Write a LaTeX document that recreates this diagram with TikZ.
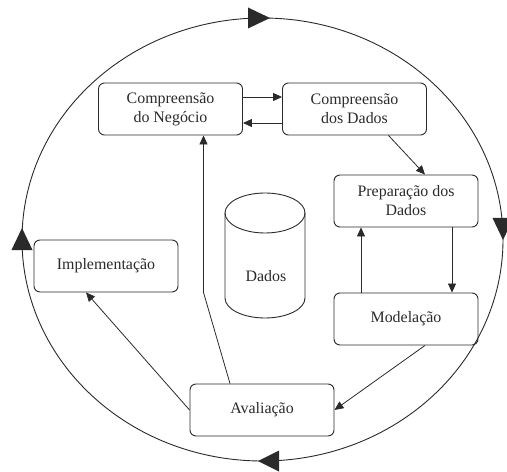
\documentclass[tikz,border=0pt]{standalone}
\usepackage{fontspec}
\setmainfont{Liberation Serif}
\usetikzlibrary{arrows.meta,calc}
\definecolor{ink}{HTML}{2A2A2A}
\begin{document}
\begin{tikzpicture}[x=1bp,y=-1bp,
  phase/.style={draw=ink, line width=0.9bp, rounded corners=6bp,
    minimum width=144bp, minimum height=52bp, align=center, text=ink,
    font=\fontsize{16}{19}\selectfont, inner sep=0pt},
  flow/.style={draw=ink, line width=0.8bp, -{Triangle[length=9bp,width=8bp]}},
  outline/.style={draw=ink, line width=0.9bp},
  cyclehead/.style={fill=ink}]
\useasboundingbox (0,0) rectangle (507,472);

% outer cycle
\draw[outline] (262.5,239.5) ellipse [x radius=240.5, y radius=221.5];
\fill[cyclehead] (270,18) -- (248,7.5) -- (248,28.5) -- cycle;
\fill[cyclehead] (503,240) -- (492.5,218) -- (513.5,218) -- cycle;
\fill[cyclehead] (258,461) -- (279,450.5) -- (279,471.5) -- cycle;
\fill[cyclehead] (22,228) -- (11.5,250) -- (32.5,250) -- cycle;

% phases
\node[phase] (cn) at (170.5,109) {Compreensão\\do Negócio};
\node[phase] (cd) at (354.5,109) {Compreensão\\dos Dados};
\node[phase] (pd) at (406,201) {Preparação dos\\Dados};
\node[phase] (md) at (406,319) {Modelação};
\node[phase] (av) at (262,410) {Avaliação};
\node[phase] (im) at (106,266) {Implementação};

% data store
\draw[outline] (265,213) ellipse [x radius=40, y radius=20];
\draw[outline] (225,213) -- (225,298) arc [start angle=180, end angle=0, x radius=40, y radius=20] -- (305,213);
\node[text=ink, font=\fontsize{16}{19}\selectfont] (dados) at (266,276) {Dados};

% transitions
\draw[flow] ([yshift=12bp]cn.east) -- ([yshift=12bp]cd.west);
\draw[flow] ([yshift=-14bp]cd.west) -- ([yshift=-14bp]cn.east);
\draw[flow] ([xshift=34bp]cd.south) -- ([xshift=19bp]pd.north);
\draw[flow] ([xshift=-45bp]md.north) -- ([xshift=-45bp]pd.south);
\draw[flow] ([xshift=46bp]pd.south) -- ([xshift=46bp]md.north);
\draw[flow] ([xshift=19bp]md.south) -- (av.east);
\draw[flow] (av.west) -- ([xshift=-20bp]im.south);
\draw[flow] ([xshift=-32bp]av.north) -- ([xshift=33bp]cn.south |- im.south) -- ([xshift=33bp]cn.south);
\end{tikzpicture}
\end{document}
